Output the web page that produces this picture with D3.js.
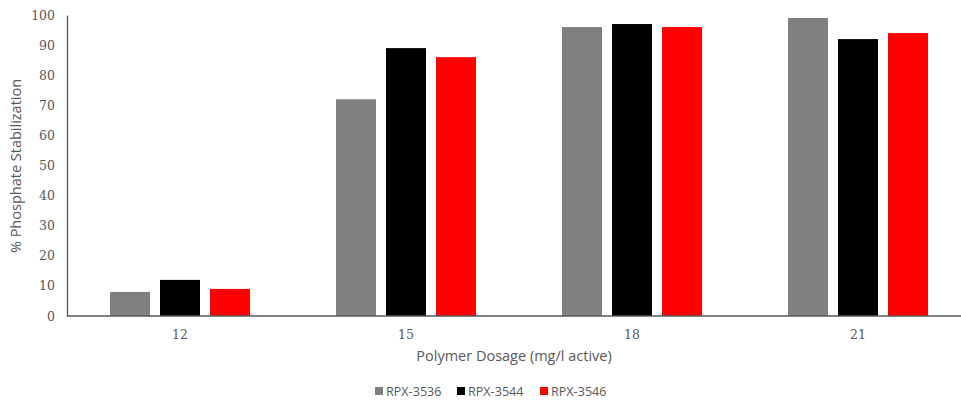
<!DOCTYPE html>
<html><head><meta charset="utf-8">
<script src="https://cdn.jsdelivr.net/npm/d3@7"></script>
<style>body{margin:0;background:#fff}svg{display:block}</style>
</head><body>
<script>
const categories = ["12","15","18","21"];
const seriesNames = ["RPX-3536","RPX-3544","RPX-3546"];
const rpx3536 = [8,72,96,99];
const rpx3544 = [12,89,97,92];
const rpx3546 = [9,86,96,94];
const yTicks = [0,10,20,30,40,50,60,70,80,90,100];
const colors = ["#808080","#000000","#ff0000"];
const series = [rpx3536, rpx3544, rpx3546];

const W=961,H=402;
const svg=d3.select("body").append("svg").attr("width",W).attr("height",H);
const x0=67, yBase=316, yTop=15;
const x=d3.scaleBand().domain(categories).range([x0, x0+226*4]).paddingInner(0).paddingOuter(0);
const xs=d3.scaleBand().domain(seriesNames).range([0,140]).paddingInner(0.2);
const y=d3.scaleLinear().domain([0,100]).range([yBase,yTop]);

// bars
categories.forEach((c,i)=>{
  const g=svg.append("g").attr("transform",`translate(${x(c)+x.bandwidth()/2-70},0)`);
  seriesNames.forEach((s,j)=>{
    g.append("rect").attr("x",xs(s)).attr("width",xs.bandwidth())
     .attr("y",y(series[j][i])).attr("height",yBase-y(series[j][i]))
     .attr("fill",colors[j]);
  });
});

// y axis
const ya=svg.append("g").attr("transform",`translate(${x0},0)`)
 .call(d3.axisLeft(y).tickValues(yTicks).tickSize(0).tickPadding(12));
ya.select(".domain").attr("stroke","#595959").attr("stroke-width",1.3);
ya.selectAll("text").attr("font-family","'DejaVu Serif', serif").attr("font-size",12.5).attr("fill","#595959");

// x axis
svg.append("line").attr("x1",x0).attr("x2",W).attr("y1",yBase).attr("y2",yBase).attr("stroke","#595959").attr("stroke-width",1.3);
const xa=svg.append("g").attr("transform",`translate(0,${yBase})`)
 .call(d3.axisBottom(x).tickSize(0).tickPadding(14));
xa.select(".domain").remove();
xa.selectAll("text").attr("font-family","'DejaVu Serif', serif").attr("font-size",12.5).attr("fill","#595959");

// titles
svg.append("text").attr("transform","translate(21,166) rotate(-90)").attr("text-anchor","middle")
 .attr("font-family","'Open Sans', sans-serif").attr("font-size",14.5).attr("fill","#595959").text("% Phosphate Stabilization");
svg.append("text").attr("x",514).attr("y",361).attr("text-anchor","middle")
 .attr("font-family","'Open Sans', sans-serif").attr("font-size",14.5).attr("fill","#595959").text("Polymer Dosage (mg/l active)");

// legend
const legX=[375,457,540];
seriesNames.forEach((s,j)=>{
  svg.append("rect").attr("x",legX[j]).attr("y",387).attr("width",8).attr("height",8).attr("fill",colors[j]);
  svg.append("text").attr("x",legX[j]+11).attr("y",396).attr("font-family","'Open Sans', sans-serif")
   .attr("font-size",12.6).attr("fill","#595959").text(s);
});
</script>
</body></html>
